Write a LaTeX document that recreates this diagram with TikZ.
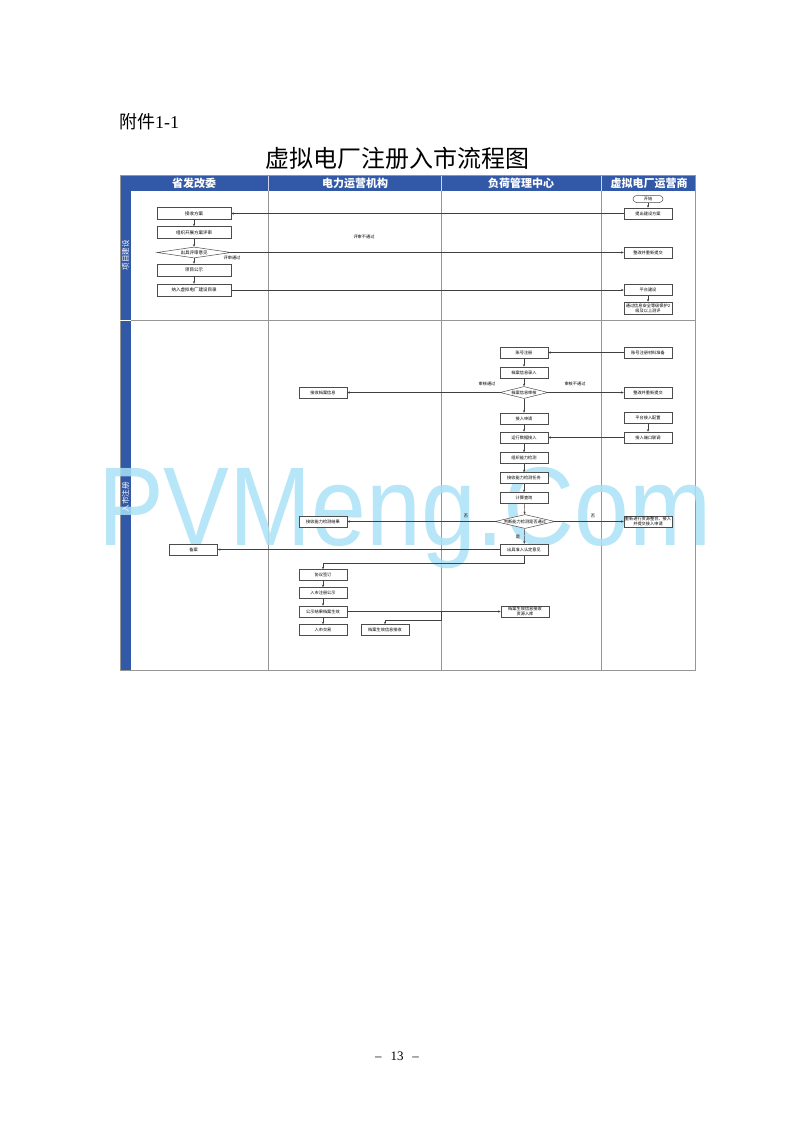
\documentclass[tikz,border=0pt]{standalone}
\usepackage{fontspec}
\setmainfont{Liberation Serif}
\newfontfamily\cjk{Noto Sans CJK SC}
\newfontfamily\wmfont{Liberation Sans}
\usetikzlibrary{arrows.meta,shapes.geometric}

\definecolor{laneblue}{RGB}{50,88,168}
\definecolor{gridgray}{RGB}{150,150,150}
\definecolor{wmcyan}{RGB}{170,226,246}

\begin{document}
\begin{tikzpicture}[
  x=1pt, y=-1pt,
  >={Stealth[length=2.6pt,width=2.2pt]},
  flow/.style={->, draw=black!75, line width=0.45pt},
  box node/.style={rectangle, draw=black!70, line width=0.5pt, fill=white,
    minimum width=48pt, minimum height=11pt, inner sep=0.6pt, align=center,
    font=\cjk\fontsize{4.2}{5}\selectfont},
  wide node/.style={box node, minimum width=74pt, minimum height=12pt,
    font=\cjk\fontsize{4.5}{5.4}\selectfont},
  test node/.style={diamond, draw=black!70, line width=0.5pt, fill=white,
    aspect=5, inner sep=0pt, minimum width=48pt, minimum height=12pt,
    font=\cjk\fontsize{4.2}{5}\selectfont},
  start node/.style={box node, rounded corners=3.5pt, minimum width=30pt,
    minimum height=7pt},
  note/.style={font=\cjk\fontsize{4.2}{5}\selectfont, inner sep=0.5pt},
  head/.style={text=white, font=\cjk\bfseries\fontsize{11}{12}\selectfont},
  lane label/.style={text=white, rotate=90, font=\cjk\fontsize{7.5}{8}\selectfont},
]
  \useasboundingbox[fill=white] (0,0) rectangle (793,1122);

  % page texts
  \node[anchor=west, inner sep=0, font=\fontsize{18}{20}\selectfont] (fj) at (119,122) {{\cjk 附件}1-1};
  \node[font=\cjk\fontsize{24}{28}\selectfont] (title) at (397,158) {虚拟电厂注册入市流程图};
  \node[font=\fontsize{13}{15}\selectfont] (pg) at (397,1056) {–\hspace{9pt}13\hspace{9pt}–};

  % table: header row, lane strip, grid
  \fill[laneblue] (120,175) rectangle (695,191);
  \fill[laneblue] (120,191) rectangle (131,670);
  \foreach \x in {268,441,601} {
    \draw[white!75!laneblue, line width=0.6pt] (\x,175) -- (\x,191);
    \draw[gridgray, line width=0.6pt] (\x,191) -- (\x,670);
  }
  \draw[gridgray, line width=0.6pt] (120,175) rectangle (695,670);
  \draw[gridgray, line width=0.6pt] (131,320) -- (695,320);
  \draw[white, line width=0.8pt] (120,320) -- (131,320);

  \node[head] (h1) at (194,183) {省发改委};
  \node[head] (h2) at (355,183) {电力运营机构};
  \node[head] (h3) at (521,183) {负荷管理中心};
  \node[head] (h4) at (649,183) {虚拟电厂运营商};

  % watermark
  \node[anchor=base west, inner sep=0, text=wmcyan, opacity=0.85,
    font=\wmfont\fontsize{112}{112}\selectfont] (wm) at (98,545)
    {\scalebox{0.88}[1]{PVMeng.Com}};

  \node[lane label] (l1) at (125.5,255) {项目建设};
  \node[lane label] (l2) at (125.5,497) {入市注册};

  % upper lane
  \node[start node] (ks) at (648,199) {开始};
  \node[box node] (tc) at (648,213.5) {提出建设方案};
  \node[box node] (zg1) at (648,252.5) {整改并重新提交};
  \node[box node] (pt) at (648,290) {平台建设};
  \node[box node, minimum height=12pt] (tg) at (648,308) {通过信息安全等级保护2\\级及以上测评};

  \node[wide node] (js) at (194,213.5) {接收方案};
  \node[wide node] (zz) at (194,232.5) {组织开展方案评审};
  \node[test node, minimum width=74pt, minimum height=11pt,
    font=\cjk\fontsize{4.5}{5.4}\selectfont] (cj) at (194,252.5) {出具评审意见};
  \node[wide node] (gs) at (194,270) {项目公示};
  \node[wide node] (nr) at (194,290) {纳入虚拟电厂建设目录};

  \node[note] (n1) at (364,237) {评审不通过};
  \node[note] (n2) at (232,258) {评审通过};

  % lower lane
  \node[box node] (zh) at (524,352.5) {账号注册};
  \node[box node] (zhcl) at (648,352.5) {账号注册材料准备};
  \node[box node] (da) at (524,372.5) {档案信息录入};
  \node[test node] (sh) at (524,392.5) {档案信息审核};
  \node[box node] (jsda) at (323,392.5) {接收档案信息};
  \node[box node] (zg2) at (648,392.5) {整改并重新提交};
  \node[box node] (jr) at (524,418.5) {接入申请};
  \node[box node] (ptpz) at (648,418) {平台接入配置};
  \node[box node] (yx) at (524,437.5) {运行数据接入};
  \node[box node] (dk) at (648,437.5) {接入端口联调};
  \node[box node] (zzjc) at (524,458) {组织能力检测};
  \node[box node] (jsrw) at (524,478) {接收能力检测任务};
  \node[box node] (jscx) at (524,498) {计算查询};
  \node[test node, minimum width=60pt, minimum height=14pt, aspect=4.3] (pd) at (525,521.5) {判断能力检测是否通过};
  \node[box node] (jg) at (323,521.5) {接收能力检测结果};
  \node[box node] (cx) at (648,521.5) {重新进行资源整合、接入\\并提交接入申请};
  \node[box node] (yj) at (524,549.5) {出具准入认定意见};
  \node[box node] (ba) at (193.5,549.5) {备案};
  \node[box node] (xy) at (323,575) {协议签订};
  \node[box node] (zcgs) at (323,593) {入市注册公示};
  \node[box node] (sx) at (323,611.5) {公示结果档案生效};
  \node[box node] (jy) at (323,630) {入市交易};
  \node[box node] (rk) at (525,611.5) {档案生效信息接收\\资源入库};
  \node[box node] (jx) at (385,630) {档案生效信息接收};

  \node[note] (n3) at (487,384) {审核通过};
  \node[note] (n4) at (575,384) {审核不通过};
  \node[note] (n5) at (466,516) {否};
  \node[note] (n6) at (593,516) {否};
  \node[note] (n7) at (518,537) {是};

  % arrows
  \foreach \a/\b in {ks/tc, js/zz, zz/cj, cj/gs, gs/nr, pt/tg,
    zh/da, da/sh, sh/jr, jr/yx, yx/zzjc, zzjc/jsrw, jsrw/jscx, jscx/pd, pd/yj,
    ptpz/dk, xy/zcgs, zcgs/sx, sx/jy}
    \draw[flow] (\a) -- (\b);

  \foreach \a/\b in {tc/js, cj/zg1, nr/pt, zhcl/zh, sh/jsda, sh/zg2, dk/yx,
    pd/jg, pd/cx, yj/ba, sx/rk}
    \draw[flow] (\a) -- (\b);

  \draw[flow] (yj.south) -- ++(0,8) -| (xy.north);
  \coordinate (br) at (441,611.5);
  \draw[flow] (br) |- ([yshift=4pt]jx.north) -- (jx.north);
\end{tikzpicture}
\end{document}
